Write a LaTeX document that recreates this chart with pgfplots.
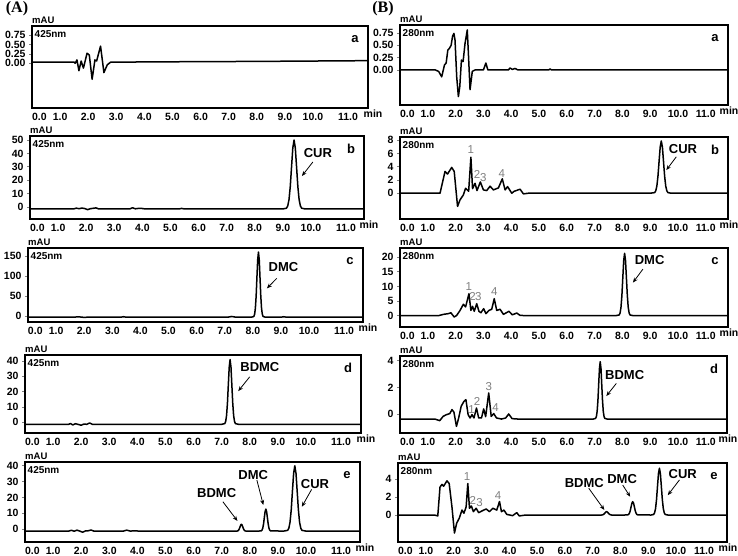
\documentclass[border=0pt]{standalone}
\usepackage{fontspec}
\setmainfont{Liberation Sans}
\newfontfamily\serifbold{Liberation Serif}
\usepackage{pgfplots}
\pgfplotsset{compat=1.18}
\usetikzlibrary{arrows.meta}
\newcommand\fs[1]{\fontsize{#1}{#1}\selectfont}
\definecolor{numgray}{HTML}{7F7F7F}
\def\minshift{5pt}
\def\elevenshift{14pt}

\pgfplotsset{
  chrom/.style={
    scale only axis, anchor=north west, xmin=0,
    clip mode=individual,
    xtick={0,...,11},
    xticklabels={\makebox[0pt][l]{0.0},1.0,2.0,3.0,4.0,5.0,6.0,7.0,8.0,9.0,10.0,\hspace{\elevenshift}11.0},
    xtick style={draw=none},
    xticklabel style={yshift=1.5pt, text height=7.6pt, text depth=0pt},
    ytick pos=left, tick align=outside, major tick length=3pt,
    ytick style={line width=0.6pt},
    tick label style={font=\fs{10.5}\bfseries},
    axis line style={line width=1.3pt},
    every axis plot post/.append style={black, line width=1.5pt, line join=round, mark=none},
    extra description/.code={
      \node[anchor=south west, inner sep=0pt, font=\fs{9.5}\bfseries] at (axis description cs:0,1) [yshift=2.5pt] {mAU};
      \node[anchor=north, font=\fs{10.5}\bfseries, text height=7.6pt, text depth=0pt] at (axis description cs:1,0) [xshift=\minshift, yshift=1.5pt] {min};
    },
  },
}
\tikzset{
  wl/.style={anchor=west, inner sep=0pt, font=\fs{10}\bfseries, xshift=2.5pt, yshift=-8pt},
  pl/.style={font=\fs{13}\bfseries, inner sep=0pt, xshift=-13pt, yshift=-13pt},
  cl/.style={font=\fs{13}\bfseries, inner sep=0pt},
  nl/.style={font=\fs{11.5}, text=numgray, inner sep=0pt},
  ar/.style={-{Stealth[length=5pt,width=4pt]}, line width=0.8pt},
}

\begin{document}
\begin{tikzpicture}
\useasboundingbox (0,0) rectangle (738pt,-556pt);
\node[font=\fs{16}\serifbold\bfseries, inner sep=0pt] at (17pt,-9pt) {(A)};
\node[font=\fs{16}\serifbold\bfseries, inner sep=0pt] at (383pt,-9pt) {(B)};

% ---------- (A) 425 nm ----------
\begin{axis}[chrom, at={(32pt,-26pt)}, width=336pt, height=82pt, xmax=11.96,
  ymin=-1.2, ymax=1.0, ytick={0,0.25,0.5,0.75}, yticklabels={0.00,0.25,0.50,0.75}]
\addplot coordinates {(0,0.03) (1.5,0.03) (1.54,0.0) (1.6,0.09) (1.67,-0.2) (1.75,0.06) (1.83,-0.13) (1.96,0.27) (2.04,0.22) (2.14,-0.43) (2.24,0.09) (2.3,0.06) (2.44,0.46) (2.56,-0.25) (2.68,-0.04) (2.8,0.03) (5,0.04) (8,0.05) (10,0.06) (11.96,0.07)};
\node[wl] at (rel axis cs:0,1) {425nm};
\node[pl] at (rel axis cs:1,1) {a};
\end{axis}

\begin{axis}[chrom, at={(30pt,-136pt)}, width=334pt, height=83pt, xmax=11.89,
  ymin=-9, ymax=53, ytick={0,10,20,30,40,50}, yticklabels={0,10,20,30,40,50}]
\addplot coordinates {(0,-1.5) (1.55,-1.5) (1.65,-0.9) (1.75,-1.3) (1.85,-0.8) (1.95,-1.2) (2.05,-2.0) (2.15,-1.3) (2.25,-1.0) (2.35,-0.7) (2.45,-1.5) (3.55,-1.5) (3.65,-0.6) (3.75,-1.4) (3.85,-1.1) (3.95,-1.0) (4.1,-1.5) (5.3,-1.5) (5.4,-1.1) (5.5,-1.5) (9.0,-1.5)
 (9.13,-0.93) (9.175,0.76) (9.22,5.47) (9.265,15.22) (9.31,29.73) (9.355,43.95) (9.4,50) (9.445,43.95) (9.49,29.73) (9.535,15.22) (9.58,5.47) (9.625,0.76) (9.67,-0.93) (9.8,-1.5) (11.89,-1.5)};
\node[wl] at (rel axis cs:0,1) {425nm};
\node[pl] at (rel axis cs:1,1) {b};
\node[cl] at (10.25,40) {CUR};
\draw[ar] (10.07,33.6) -- (9.68,23.1);
\end{axis}

\begin{axis}[chrom, at={(28pt,-248pt)}, width=335pt, height=74pt, xmax=11.92,
  ymin=-15, ymax=170, ytick={0,50,100,150}, yticklabels={0,50,100,150}]
\addplot coordinates {(0,-3) (1.6,-3) (1.8,-2) (2.0,-3.5) (2.2,-2.5) (2.4,-3) (3.3,-3) (3.4,-1.8) (3.5,-3) (7.1,-3) (7.25,-1.2) (7.4,-3) (7.95,-3)
 (8.035,-1.19) (8.063,4.16) (8.09,19.05) (8.118,49.93) (8.145,95.86) (8.173,140.85) (8.2,160) (8.228,140.85) (8.255,95.86) (8.283,49.93) (8.31,19.05) (8.338,4.16) (8.365,-1.19) (8.45,-3) (9.0,-3) (9.1,-1.8) (9.2,-3) (11.92,-3)};
\node[wl] at (rel axis cs:0,1) {425nm};
\node[pl] at (rel axis cs:1,1) {c};
\node[cl] at (9.09,123) {DMC};
\draw[ar] (8.85,94) -- (8.5,69);
\end{axis}

\begin{axis}[chrom, at={(25pt,-355pt)}, width=336pt, height=78pt, xmax=11.96,
  ymin=-7.2, ymax=44, ytick={0,10,20,30,40}, yticklabels={0,10,20,30,40}]
\addplot coordinates {(0,-1.5) (1.55,-1.5) (1.62,-1.0) (1.7,-1.9) (1.8,-1.1) (1.9,-1.6) (2.0,-2.1) (2.1,-1.3) (2.2,-1.5) (2.3,-0.6) (2.4,-1.5) (7.0,-1.5)
 (7.111,-1.03) (7.143,0.37) (7.174,4.25) (7.206,12.3) (7.237,24.28) (7.269,36.01) (7.3,41) (7.332,36.01) (7.363,24.28) (7.395,12.3) (7.426,4.25) (7.458,0.37) (7.489,-1.03) (7.6,-1.5) (11.96,-1.5)};
\node[wl] at (rel axis cs:0,1) {425nm};
\node[pl] at (rel axis cs:1,1) {d};
\node[cl] at (8.36,36) {BDMC};
\draw[ar] (8.0,29.7) -- (7.59,20.3);
\end{axis}

\begin{axis}[chrom, at={(25pt,-462pt)}, width=335pt, height=80pt, xmax=11.92,
  ymin=-8.2, ymax=42.4, ytick={0,10,20,30,40}, yticklabels={0,10,20,30,40}]
\addplot coordinates {(0,-1.3) (1.55,-1.3) (1.65,-0.8) (1.75,-1.4) (1.85,-0.7) (1.95,-1.3) (2.05,-2.0) (2.15,-1.2) (2.25,-1.1) (2.35,-0.6) (2.45,-1.3) (3.5,-1.3) (3.62,-0.7) (3.75,-1.3) (3.9,-1.1) (4.05,-1.3) (7.45,-1.3)
 (7.55,-1.25) (7.575,-1.11) (7.6,-0.72) (7.625,0.10) (7.65,1.31) (7.675,2.49) (7.7,3.0) (7.725,2.49) (7.75,1.31) (7.775,0.10) (7.8,-0.72) (7.825,-1.11) (7.85,-1.25) (8.3,-1.3)
 (8.405,-1.15) (8.433,-0.69) (8.46,0.58) (8.488,3.21) (8.515,7.13) (8.543,10.97) (8.57,12.6) (8.598,10.97) (8.625,7.13) (8.653,3.21) (8.68,0.58) (8.708,-0.69) (8.735,-1.15) (9.2,-1.3)
 (9.345,-0.84) (9.388,0.51) (9.43,4.29) (9.473,12.11) (9.515,23.75) (9.558,35.15) (9.6,40) (9.643,35.15) (9.685,23.75) (9.728,12.11) (9.77,4.29) (9.813,0.51) (9.855,-0.84) (10.0,-1.3) (11.92,-1.3)};
\node[wl] at (rel axis cs:0,1) {425nm};
\node[pl] at (rel axis cs:1,1) {e};
\node[cl] at (6.82,23) {BDMC};
\node[cl] at (8.12,34.2) {DMC};
\node[cl] at (10.32,28.3) {CUR};
\draw[ar] (7.04,17.3) -- (7.56,5.1);
\draw[ar] (8.25,31) -- (8.48,15.2);
\draw[ar] (10.2,25.1) -- (9.85,14.1);
\end{axis}

% ---------- (B) 280 nm ----------
\def\minshift{1pt}
\def\elevenshift{0pt}
\begin{axis}[chrom, at={(400pt,-25pt)}, width=328pt, height=80pt, xmax=11.8,
  ymin=-0.71, ymax=0.91, ytick={0,0.25,0.5,0.75}, yticklabels={0.00,0.25,0.50,0.75}]
\addplot coordinates {(0,0) (1.27,0) (1.39,-0.03) (1.5,-0.14) (1.6,0.1) (1.66,0.14) (1.72,0.4) (1.78,0.44) (1.84,0.5) (1.89,0.68) (1.94,0.74) (1.98,0.6) (2.04,-0.14) (2.1,-0.54) (2.15,-0.34) (2.21,0.2) (2.27,0.17) (2.34,0.54) (2.42,0.81) (2.46,0.34) (2.52,-0.4) (2.6,-0.03) (2.7,0) (3.0,0) (3.09,0.14) (3.16,0) (3.9,0) (3.96,0.04) (4.04,0.01) (4.14,0.03) (4.24,0) (5.35,0) (5.4,0.02) (5.45,0) (11.8,0)};
\node[wl] at (rel axis cs:0,1) {280nm};
\node[pl] at (rel axis cs:1,1) {a};
\end{axis}

\begin{axis}[chrom, at={(400pt,-137pt)}, width=328pt, height=82pt, xmax=11.8,
  ymin=-3.9, ymax=8.5, ytick={0,2,4,6,8}, yticklabels={0,2,4,6,8}]
\addplot coordinates {(0,0) (1.44,0) (1.62,3.3) (1.71,2.9) (1.86,3.9) (1.95,3.3) (2.07,-2.0) (2.16,-1.0) (2.28,-0.26) (2.36,0.75) (2.47,0.3) (2.55,5.45) (2.61,0.7) (2.7,1.5) (2.77,0.4) (2.89,1.7) (3.0,0.5) (3.12,0.4) (3.24,1.06) (3.36,0.5) (3.54,0.8) (3.68,2.17) (3.78,0.5) (3.87,1.0) (4.02,0) (4.11,0.3) (4.32,0.6) (4.44,-0.1) (4.62,0) (9.0,0)
 (9.16,0.09) (9.2,0.35) (9.24,1.07) (9.28,2.57) (9.32,4.79) (9.36,6.97) (9.4,7.9) (9.44,6.97) (9.48,4.79) (9.52,2.57) (9.56,1.07) (9.6,0.35) (9.64,0.09) (9.75,0) (11.8,0)};
\node[wl] at (rel axis cs:0,1) {280nm};
\node[pl] at (rel axis cs:1,1) {b};
\node[nl] at (2.55,6.6) {1};
\node[nl] at (2.77,2.8) {2};
\node[nl] at (3.0,2.4) {3};
\node[nl] at (3.66,3.0) {4};
\node[cl] at (10.18,6.7) {CUR};
\draw[ar] (9.94,5.5) -- (9.58,3.5);
\end{axis}

\begin{axis}[chrom, at={(400pt,-248pt)}, width=328pt, height=79pt, xmax=11.8,
  ymin=-3.86, ymax=23.1, ytick={0,5,10,15,20}, yticklabels={0,5,10,15,20}]
\addplot coordinates {(0,0) (1.38,0) (1.56,0.45) (1.74,0.7) (1.83,1.0) (1.95,-0.45) (2.04,0.1) (2.16,1.8) (2.28,3.9) (2.36,3.0) (2.48,7.5) (2.55,1.8) (2.61,3.2) (2.67,1.5) (2.76,4.1) (2.84,1.5) (2.91,1.0) (3.01,2.4) (3.09,0.7) (3.2,1.8) (3.3,2.2) (3.39,5.8) (3.48,1.8) (3.6,2.2) (3.72,0.45) (3.92,1.5) (4.04,0.3) (4.2,0.9) (4.32,0.1) (4.62,0) (7.75,0)
 (7.885,0.24) (7.918,0.94) (7.95,2.88) (7.983,6.92) (8.015,12.92) (8.048,18.8) (8.08,21.3) (8.113,18.8) (8.145,12.92) (8.178,6.92) (8.21,2.88) (8.243,0.94) (8.275,0.24) (8.4,0) (11.8,0)};
\node[wl] at (rel axis cs:0,1) {280nm};
\node[pl] at (rel axis cs:1,1) {c};
\node[nl] at (2.48,10.1) {1};
\node[nl] at (2.61,6.5) {2};
\node[nl] at (2.82,6.7) {3};
\node[nl] at (3.39,8.2) {4};
\node[cl] at (8.98,19) {DMC};
\draw[ar] (8.74,15.9) -- (8.38,11.3);
\end{axis}

\begin{axis}[chrom, at={(400pt,-356pt)}, width=327pt, height=77pt, xmax=11.76,
  ymin=-1.43, ymax=4.36, ytick={0,2,4}, yticklabels={0,2,4}]
\addplot coordinates {(0,-0.38) (1.25,-0.38) (1.43,-0.5) (1.55,-0.18) (1.67,-0.05) (1.79,0.03) (1.87,0.33) (1.94,0.13) (2.03,-0.93) (2.11,-0.3) (2.2,0.58) (2.3,0.95) (2.37,1.08) (2.45,-0.05) (2.52,-0.3) (2.59,-0.05) (2.66,-0.3) (2.75,0.45) (2.83,-0.3) (2.93,-0.3) (3.01,0.38) (3.08,-0.2) (3.19,1.58) (3.28,-0.18) (3.37,0.03) (3.47,-0.3) (3.65,-0.38) (3.8,-0.3) (3.91,0) (4.03,-0.35) (4.24,-0.38) (6.95,-0.38)
 (7.035,-0.33) (7.063,-0.19) (7.09,0.2) (7.118,1.02) (7.145,2.23) (7.173,3.42) (7.2,3.93) (7.228,3.42) (7.255,2.23) (7.283,1.02) (7.31,0.2) (7.338,-0.19) (7.365,-0.33) (7.45,-0.38) (11.76,-0.38)};
\node[wl] at (rel axis cs:0,1) {280nm};
\node[pl] at (rel axis cs:1,1) {d};
\node[nl] at (2.57,0.35) {1};
\node[nl] at (2.77,0.93) {2};
\node[nl] at (3.19,2.05) {3};
\node[nl] at (3.44,0.5) {4};
\node[cl] at (8.08,2.93) {BDMC};
\draw[ar] (7.78,2.3) -- (7.42,1.35);
\end{axis}

\begin{axis}[chrom, at={(398pt,-463pt)}, width=329pt, height=79pt, xmax=11.83,
  ymin=-3, ymax=5.78, ytick={0,2,4}, yticklabels={0,2,4}]
\addplot coordinates {(0,0) (1.31,0) (1.43,-0.1) (1.51,3.1) (1.58,3.4) (1.64,3.2) (1.76,3.8) (1.84,3.5) (1.94,0.9) (2.03,-2.0) (2.11,-0.9) (2.2,-0.37) (2.3,0.55) (2.37,0.2) (2.45,0.9) (2.51,3.5) (2.57,0.75) (2.64,1.0) (2.71,0.37) (2.81,0.75) (2.9,0.26) (3.05,0.5) (3.17,0.67) (3.29,0.37) (3.41,0.75) (3.55,0.55) (3.65,1.5) (3.72,0.37) (3.81,0.55) (3.91,0.07) (4.12,-0.07) (4.27,0.26) (4.36,-0.1) (4.6,0) (7.2,0)
 (7.32,0) (7.35,0.02) (7.38,0.05) (7.41,0.12) (7.44,0.22) (7.47,0.33) (7.5,0.37) (7.53,0.33) (7.56,0.22) (7.59,0.12) (7.62,0.05) (7.65,0.02) (7.68,0) (8.15,0)
 (8.26,0.02) (8.29,0.06) (8.32,0.2) (8.35,0.48) (8.38,0.9) (8.41,1.31) (8.44,1.48) (8.47,1.31) (8.5,0.9) (8.53,0.48) (8.56,0.2) (8.59,0.06) (8.62,0.02) (9.1,0)
 (9.19,0.06) (9.225,0.23) (9.26,0.7) (9.295,1.69) (9.33,3.15) (9.365,4.59) (9.4,5.2) (9.435,4.59) (9.47,3.15) (9.505,1.69) (9.54,0.7) (9.575,0.23) (9.61,0.06) (9.7,0) (11.83,0)};
\node[wl] at (rel axis cs:0,1) {280nm};
\node[pl] at (rel axis cs:1,1) {e};
\node[nl] at (2.48,4.26) {1};
\node[nl] at (2.69,1.67) {2};
\node[nl] at (2.93,1.37) {3};
\node[nl] at (3.6,2.2) {4};
\node[cl] at (6.7,3.5) {BDMC};
\node[cl] at (8.06,4.0) {DMC};
\node[cl] at (10.24,4.55) {CUR};
\draw[ar] (6.86,2.97) -- (7.42,0.56);
\draw[ar] (8.08,3.33) -- (8.35,2.03);
\draw[ar] (10.12,3.9) -- (9.7,2.2);
\end{axis}
\end{tikzpicture}
\end{document}
